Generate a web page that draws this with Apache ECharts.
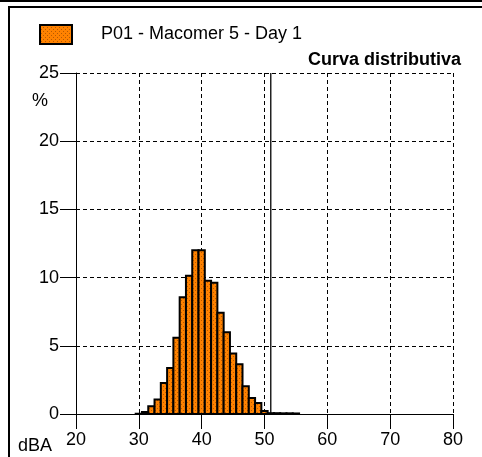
<!DOCTYPE html>
<html>
<head>
<meta charset="utf-8">
<script src="https://cdn.jsdelivr.net/npm/echarts@6/dist/echarts.min.js"></script>
<style>
html,body{margin:0;padding:0;background:#fff;}
#chart{width:482px;height:457px;}
</style>
</head>
<body>
<div id="chart"></div>
<script>
// ---- data ----
const seriesName = 'P01 - Macomer 5 - Day 1';
const chartTitle = 'Curva distributiva';
const levels = [30, 31, 32, 33, 34, 35, 36, 37, 38, 39, 40, 41, 42, 43, 44, 45, 46, 47, 48, 49, 50, 51, 52, 53, 54, 55];
const percents = [0.02, 0.15, 0.57, 1.06, 2.28, 3.38, 5.59, 8.56, 10.13, 12.0, 12.0, 9.76, 9.63, 7.43, 6.0, 4.44, 3.65, 2.04, 1.18, 0.81, 0.22, 0.06, 0.06, 0.05, 0.05, 0.04];
const refLevel = [51];
const xRange = [20, 80];
const yRange = [0, 25];
const xLabelUnit = 'dBA';
const yLabelUnit = '%';

// ---- pattern fill (orange with dark dots) ----
const pc = document.createElement('canvas');
pc.width = 4; pc.height = 4;
const g = pc.getContext('2d');
g.fillStyle = '#ff8200';
g.fillRect(0, 0, 4, 4);
g.fillStyle = '#b85a00';
g.fillRect(1, 0, 1, 1);
g.fillRect(3, 2, 1, 1);
const pattern = { image: pc, repeat: 'repeat' };

const histData = levels.map((l, i) => [l, percents[i]]);
const refData = [[refLevel[0], yRange[0]], [refLevel[0], yRange[1]]];

const chart = echarts.init(document.getElementById('chart'), null, { renderer: 'canvas' });
const font = 'Liberation Sans, Arial, sans-serif';
chart.setOption({
  animation: false,
  backgroundColor: '#fff',
  title: {
    text: chartTitle,
    right: 16, top: 46,
    textStyle: { fontFamily: font, fontSize: 18, fontWeight: 'bold', color: '#000' }
  },
  legend: {
    left: 39, top: 24,
    padding: 0,
    data: [seriesName],
    itemWidth: 32, itemHeight: 19,
    icon: 'rect',
    textStyle: { fontFamily: font, fontSize: 18, color: '#000', padding: [0, 0, 0, 24] },
    itemStyle: { borderColor: '#000', borderWidth: 2 }
  },
  grid: { left: 76, right: 29, top: 73, bottom: 43 },
  xAxis: {
    type: 'value', min: xRange[0], max: xRange[1], interval: 10,
    axisLine: { show: true, lineStyle: { color: '#000', width: 1 } },
    axisTick: { show: true, length: 15, lineStyle: { color: '#000', width: 1 } },
    axisLabel: { fontFamily: font, fontSize: 18, color: '#000', margin: 17 },
    splitLine: { show: true, lineStyle: { color: '#000', width: 1, type: [4, 3] } }
  },
  yAxis: {
    type: 'value', min: yRange[0], max: yRange[1], interval: 5,
    axisLine: { show: true, lineStyle: { color: '#000', width: 1 } },
    axisTick: { show: true, length: 16, lineStyle: { color: '#000', width: 1 } },
    axisLabel: { fontFamily: font, fontSize: 18, color: '#000', margin: 17 },
    splitLine: { show: true, lineStyle: { color: '#000', width: 1, type: [4, 3] } }
  },
  graphic: [
    { type: 'rect', left: 0, top: 0, shape: { width: 482, height: 2 }, style: { fill: '#000' }, silent: true },
    { type: 'rect', left: 8, top: 6, shape: { width: 474, height: 2 }, style: { fill: '#000' }, silent: true },
    { type: 'rect', left: 8, top: 6, shape: { width: 2, height: 451 }, style: { fill: '#000' }, silent: true },
    { type: 'text', left: 32, top: 92, style: { text: yLabelUnit, font: '18px ' + font, fill: '#000' } },
    { type: 'text', left: 18, top: 437, style: { text: xLabelUnit, font: '18px ' + font, fill: '#000' } }
  ],
  series: [
    {
      name: seriesName,
      type: 'custom',
      data: histData,
      encode: { x: 0, y: 1 },
      itemStyle: { color: pattern, borderColor: '#000', borderWidth: 2 },
      renderItem: function (params, api) {
        const x = api.value(0), y = api.value(1);
        const p0 = api.coord([x - 0.5, y]);
        const p1 = api.coord([x + 0.5, 0]);
        return {
          type: 'rect',
          shape: { x: p0[0], y: p0[1], width: p1[0] - p0[0], height: p1[1] - p0[1] },
          style: { fill: pattern, stroke: '#000', lineWidth: 2 }
        };
      },
      z: 3
    },
    {
      name: 'ref',
      type: 'line',
      data: refData,
      symbol: 'none',
      lineStyle: { color: '#000', width: 1.3 },
      z: 4,
      silent: true
    }
  ]
});
</script>
</body>
</html>
